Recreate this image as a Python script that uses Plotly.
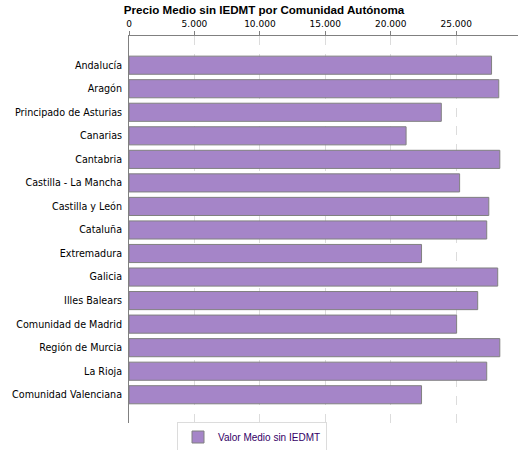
import plotly.graph_objects as go

categories = ["Andalucía", "Aragón", "Principado de Asturias", "Canarias", "Cantabria",
              "Castilla - La Mancha", "Castilla y León", "Cataluña", "Extremadura", "Galicia",
              "Illes Balears", "Comunidad de Madrid", "Región de Murcia", "La Rioja",
              "Comunidad Valenciana"]
values = [27700, 28250, 23860, 21170, 28330, 25260, 27490, 27330, 22350, 28170,
          26640, 25030, 28330, 27330, 22350]
tick_vals = [0, 5000, 10000, 15000, 20000, 25000]
series_name = "Valor Medio sin IEDMT"
title = "Precio Medio sin IEDMT por Comunidad Autónoma"

fig = go.Figure()
fig.add_trace(go.Bar(
    y=categories, x=values, orientation="h", name=series_name,
    width=0.77,
    marker=dict(color="#A585C8", line=dict(color="#808080", width=1)),
    showlegend=True,
))

fig.update_layout(
    width=525, height=450,
    margin=dict(l=129, r=7, t=36, b=27, autoexpand=False),
    paper_bgcolor="white", plot_bgcolor="white",
    separators=",.",
    title=dict(text="<b>" + title + "</b>", x=0.503, xanchor="center", y=1 - 10 / 450,
               yanchor="middle", yref="container",
               font=dict(family="Liberation Sans, Arial", size=11.6, color="black")),
    xaxis=dict(side="top", range=[0, 29720], tickvals=tick_vals, tickformat=",d",
               showline=True, linecolor="#808080", linewidth=1,
               ticks="outside", ticklen=4, tickcolor="#808080",
               showgrid=True, gridcolor="#dcdcdc", griddash="dash", gridwidth=1,
               zeroline=False,
               tickfont=dict(family="DejaVu Sans", size=9, color="black")),
    yaxis=dict(type="category", range=[15.2, -1.24],
               showline=True, linecolor="#808080", linewidth=1,
               ticks="", showgrid=False, zeroline=False, ticklabelstandoff=4,
               tickfont=dict(family="DejaVu Sans", size=9.6, color="black")),
    legend=dict(orientation="h", x=252 / 525, xref="container", xanchor="center",
                y=1 - 437 / 450, yref="container", yanchor="middle",
                bordercolor="#dcdcdc", borderwidth=1, bgcolor="white",
                font=dict(family="Liberation Sans, Arial", size=10, color="#330066"),
                itemwidth=30, tracegroupgap=0),
    bargap=0.23,
)

fig.write_html("out.html")
